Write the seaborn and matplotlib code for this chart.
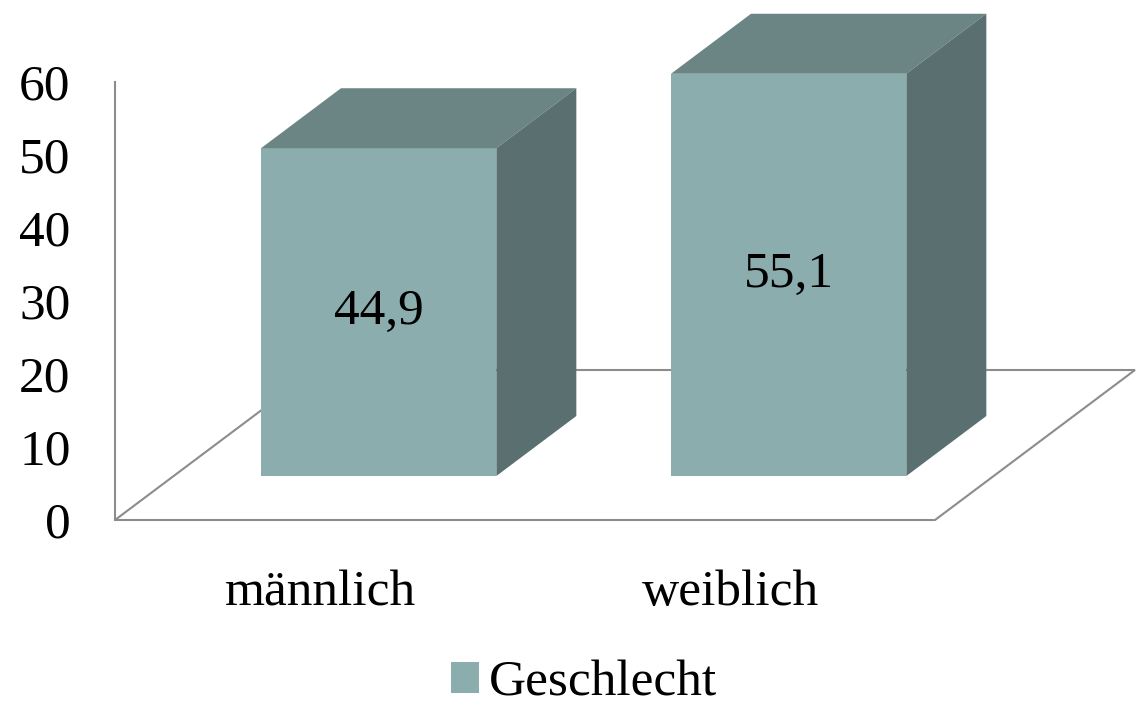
import matplotlib
matplotlib.use("Agg")
import matplotlib.pyplot as plt
import matplotlib.transforms as mtransforms
from matplotlib.patches import Polygon
import seaborn as sns
import numpy as np

categories = ["männlich", "weiblich"]
values = [44.9, 55.1]
series_name = "Geschlecht"
yticks = [0, 10, 20, 30, 40, 50, 60]

FRONT = "#8CADAE"
TOP = "#6B8584"
SIDE = "#5A6F70"
GRID = "#8C8C8C"

sns.set_theme(style="white")
plt.rcParams["font.family"] = ["Liberation Serif", "DejaVu Serif"]
plt.rcParams["text.color"] = "black"

W, H = 1137, 705
fig = plt.figure(figsize=(W / 100, H / 100), dpi=100)
ax = fig.add_axes([115 / W, 185 / H, 820 / W, 438 / H])

sns.barplot(x=categories, y=values, color=FRONT, saturation=1, width=0.574,
            edgecolor="none", linewidth=0, ax=ax, label=series_name, zorder=3)
ax.set_xlim(-0.5, 1.5)
ax.set_ylim(0, 60)
ax.set_yticks(yticks)
ax.set_xlabel("")
ax.set_ylabel("")
for s in ["top", "right", "bottom"]:
    ax.spines[s].set_visible(False)
ax.spines["left"].set_color(GRID)
ax.spines["left"].set_linewidth(1.5)
ax.tick_params(axis="both", length=0, labelsize=37, colors="black")
ax.tick_params(axis="y", pad=32)
ax.tick_params(axis="x", pad=36)

# perspective (pixels)
FLOOR_DX, FLOOR_DY = 200.0, 150.0
BAR_START = 44.0 / 150.0
BAR_DEPTH = 60.0 / 150.0
ident = mtransforms.IdentityTransform()

# floor
fl = ax.transData.transform([(-0.5, 0), (1.5, 0)])
floor = np.array([fl[0], fl[1], fl[1] + [FLOOR_DX, FLOOR_DY], fl[0] + [FLOOR_DX, FLOOR_DY]])
ax.add_patch(Polygon(floor, closed=True, facecolor="white", edgecolor=GRID, lw=1.5,
                     transform=ident, clip_on=False, zorder=1))

off = mtransforms.offset_copy(ax.transData, fig=fig, x=FLOOR_DX * BAR_START,
                              y=FLOOR_DY * BAR_START, units="dots")
dd = np.array([FLOOR_DX * BAR_DEPTH, FLOOR_DY * BAR_DEPTH])
for p, v in zip(ax.patches, values):
    p.set_transform(off)
    p.set_clip_on(False)
    x0, w, h = p.get_x(), p.get_width(), p.get_height()
    c = off.transform([(x0, 0), (x0 + w, 0), (x0 + w, h), (x0, h)])
    top = np.array([c[3], c[2], c[2] + dd, c[3] + dd])
    side = np.array([c[1], c[2], c[2] + dd, c[1] + dd])
    ax.add_patch(Polygon(top, closed=True, facecolor=TOP, edgecolor="none",
                         transform=ident, clip_on=False, zorder=3))
    ax.add_patch(Polygon(side, closed=True, facecolor=SIDE, edgecolor="none",
                         transform=ident, clip_on=False, zorder=3))
    ax.text(x0 + w / 2, h / 2, f"{v:.1f}".replace(".", ","), transform=off,
            ha="center", va="center", fontsize=37, color="black", zorder=5)

leg = fig.legend(handles=[ax.patches[0]], labels=[series_name], loc="center",
                 bbox_to_anchor=(584 / W, 1 - 683 / H), frameon=False, fontsize=37,
                 labelcolor="black",
                 handlelength=0.55, handleheight=0.55, handletextpad=0.2,
                 borderpad=0, borderaxespad=0)
if ax.get_legend() is not None:
    ax.get_legend().remove()

fig.savefig("out.png", dpi=100, facecolor="white")
